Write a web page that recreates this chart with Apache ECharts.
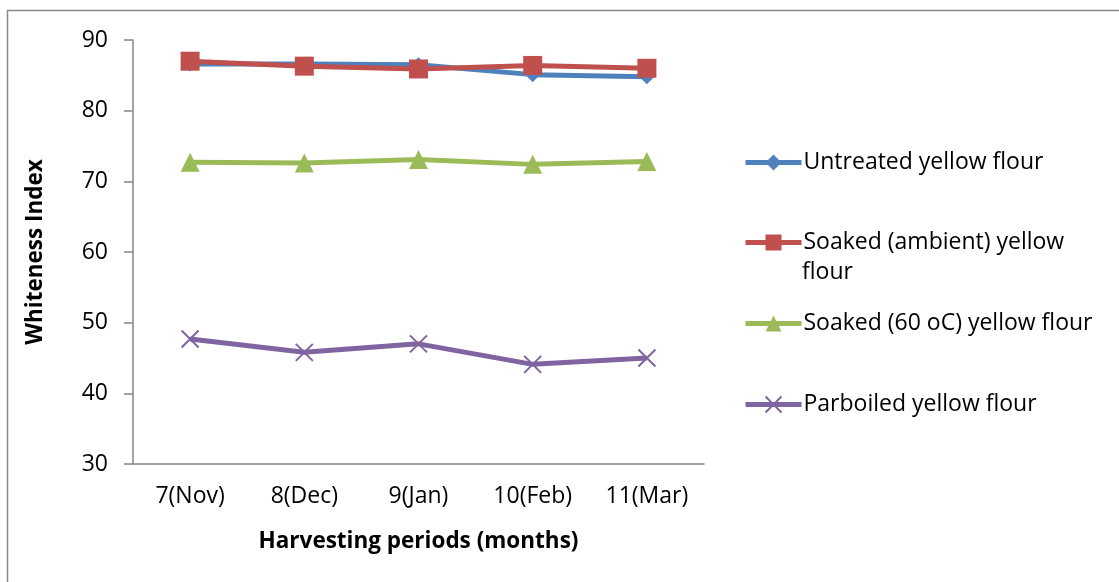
<!DOCTYPE html>
<html><head><meta charset="utf-8">
<script src="https://cdn.jsdelivr.net/npm/echarts@6/dist/echarts.min.js"></script>
<style>html,body{margin:0;padding:0;background:#fff}#c{width:1119px;height:582px}</style>
</head><body><div id="c"></div>
<script>
const categories = ['7(Nov)', '8(Dec)', '9(Jan)', '10(Feb)', '11(Mar)'];
const untreated = [86.6, 86.6, 86.5, 85.1, 84.8];
const soakedAmbient = [87.0, 86.3, 85.9, 86.4, 86.0];
const soaked60 = [72.7, 72.6, 73.1, 72.4, 72.8];
const parboiled = [47.7, 45.8, 47.0, 44.1, 45.0];
const seriesNames = ['Untreated yellow flour', 'Soaked (ambient) yellow flour', 'Soaked (60 oC) yellow flour', 'Parboiled yellow flour'];
const yTicks = { min: 30, max: 90, interval: 10 };

const font = '"Open Sans", Lato, sans-serif';
const fs = 23;
const fsBold = 22.5;
const colors = ['#4F81BD', '#C0504D', '#9BBB59', '#8064A2'];
const symbols = ['diamond', 'rect', 'triangle', 'path://M0,0 L10,10 M10,0 L0,10'];
const sizes = [15, 19, 19, 17];
const datas = [untreated, soakedAmbient, soaked60, parboiled];
const legendTops = [151, 231, 312, 393];

const chart = echarts.init(document.getElementById('c'));
chart.setOption({
  animation: false,
  textStyle: { fontFamily: font },
  grid: { left: 133, right: 415, top: 40, bottom: 118 },
  xAxis: {
    type: 'category', data: categories, boundaryGap: true,
    axisLine: { lineStyle: { color: '#868686', width: 1.5 } },
    axisTick: { show: false },
    axisLabel: { color: '#000', fontSize: fs, margin: 21, fontFamily: font },
    name: 'Harvesting periods (months)', nameLocation: 'middle', nameGap: 66,
    nameTextStyle: { color: '#000', fontSize: fsBold, fontWeight: 'bold', fontFamily: font }
  },
  yAxis: {
    type: 'value', min: yTicks.min, max: yTicks.max, interval: yTicks.interval,
    axisLine: { show: true, lineStyle: { color: '#868686', width: 1.5 } },
    axisTick: { show: true, length: 9, lineStyle: { color: '#868686', width: 1.5 } },
    splitLine: { show: false },
    axisLabel: { color: '#000', fontSize: fs, margin: 25, fontFamily: font },
    name: 'Whiteness Index', nameLocation: 'middle', nameGap: 86,
    nameTextStyle: { color: '#000', fontSize: fsBold, fontWeight: 'bold', fontFamily: font }
  },
  legend: seriesNames.map((n, i) => ({
    data: [n], left: 743, top: legendTops[i], padding: 0, itemWidth: 56, itemHeight: 20, itemGap: 4,
    lineStyle: { width: 5 },
    formatter: i === 1 ? () => 'Soaked (ambient) yellow' : undefined,
    textStyle: { color: '#000', fontSize: fs, lineHeight: 20, fontFamily: font, padding: [0, 0, 0, -3] }
  })),
  graphic: [
    { type: 'rect', shape: { x: 7.5, y: 10.5, width: 1300, height: 1000 }, style: { fill: 'none', stroke: '#898989', lineWidth: 1.5 }, silent: true },
    { type: 'text', x: 802, y: 272, style: { text: 'flour', fill: '#000', font: fs + 'px ' + font, verticalAlign: 'middle' } }
  ],
  series: seriesNames.map((n, i) => ({
    name: n, type: 'line', data: datas[i],
    symbol: symbols[i], symbolSize: sizes[i],
    lineStyle: { color: colors[i], width: 5 },
    itemStyle: i === 3 ? { color: 'none', borderColor: colors[i], borderWidth: 2 } : { color: colors[i] },
    z: i === 0 ? 2 : 3
  }))
});
</script></body></html>
